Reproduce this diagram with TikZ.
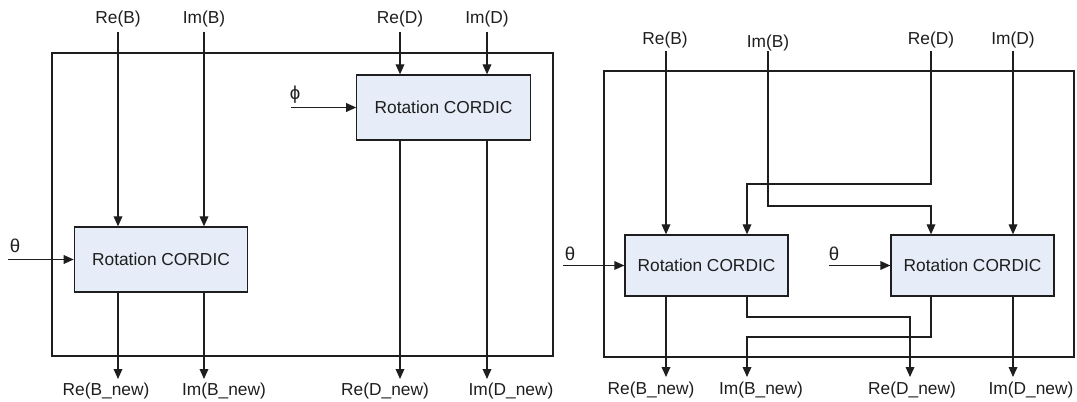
\documentclass[tikz,border=0pt]{standalone}
\usepackage{fontspec}
\setmainfont{Liberation Sans}
\usetikzlibrary{arrows.meta}
\definecolor{boxfill}{RGB}{230,236,248}
\definecolor{ink}{RGB}{30,30,30}
\begin{document}
\begin{tikzpicture}[x=0.75pt,y=-0.75pt,
  wire/.style={line width=0.95pt, draw=ink},
  arr/.style={wire,-{Triangle[length=7.5pt,width=6.5pt]}},
  lbl/.style={inner sep=0pt, font=\fontsize{13}{15}\selectfont, text=ink},
  cordicA/.style={draw=ink, line width=0.95pt, fill=boxfill, minimum width=130pt, minimum height=48.75pt, inner sep=0pt, font=\fontsize{13}{15}\selectfont, text=ink},
  cordicB/.style={cordicA, minimum width=122.25pt, minimum height=45.75pt},
  frame/.style={draw=ink, line width=0.95pt}]
\useasboundingbox (0,0) rectangle (1077,402);

% ===== Left diagram =====
\draw[frame] (52,53) rectangle (553,356);
\node[cordicA] (L1) at (161,259.5) {Rotation CORDIC};
\node[cordicA] (R1) at (443.5,107.5) {Rotation CORDIC};

\node[lbl] (aReB) at (118,19) {Re(B)};
\node[lbl] (aImB) at (204,19) {Im(B)};
\node[lbl] (aReD) at (400,19) {Re(D)};
\node[lbl] (aImD) at (487,19) {Im(D)};
\coordinate (a1) at (118,32);
\coordinate (a2) at (204,32);
\coordinate (a3) at (400,32);
\coordinate (a4) at (487,32);
\draw[arr] (a1) -- (a1 |- L1.north);
\draw[arr] (a2) -- (a2 |- L1.north);
\draw[arr] (a3) -- (a3 |- R1.north);
\draw[arr] (a4) -- (a4 |- R1.north);

\node[lbl, font=\fontsize{14}{16}\selectfont] (ath) at (15,246) {θ};
\coordinate (athS) at (8,259.5);
\draw[arr] (athS) -- (L1.west);
\node[lbl, font=\fontsize{14}{16}\selectfont] (aphi) at (295,95) {ϕ};
\coordinate (aphiS) at (291,107.5);
\draw[arr] (aphiS) -- (R1.west);

\coordinate (ao1) at (118,379);
\coordinate (ao2) at (204,379);
\coordinate (ao3) at (400,379);
\coordinate (ao4) at (487,379);
\draw[arr] (ao1 |- L1.south) -- (ao1);
\draw[arr] (ao2 |- L1.south) -- (ao2);
\draw[arr] (ao3 |- R1.south) -- (ao3);
\draw[arr] (ao4 |- R1.south) -- (ao4);
\node[lbl] (aReBn) at (106,391) {Re(B\_new)};
\node[lbl] (aImBn) at (224,391) {Im(B\_new)};
\node[lbl] (aReDn) at (385,391) {Re(D\_new)};
\node[lbl] (aImDn) at (511,391) {Im(D\_new)};

% ===== Right diagram =====
\draw[frame] (604,71) rectangle (1074,357);
\node[cordicB] (L2) at (706.5,265.5) {Rotation CORDIC};
\node[cordicB] (R2) at (972.5,265.5) {Rotation CORDIC};

\node[lbl] (bReB) at (665,40) {Re(B)};
\node[lbl] (bImB) at (768,43) {Im(B)};
\node[lbl] (bReD) at (931,40) {Re(D)};
\node[lbl] (bImD) at (1013,40) {Im(D)};
\coordinate (b1) at (666,51);
\coordinate (b2) at (768,51);
\coordinate (b3) at (931,51);
\coordinate (b4) at (1013,51);
\coordinate (bj1) at (931,184);
\coordinate (bj2) at (747,184);
\coordinate (bj3) at (768,206);
\coordinate (bj4) at (931,206);
\draw[arr] (b1) -- (b1 |- L2.north);
\draw[arr] (b3) -- (bj1) -- (bj2) -- (bj2 |- L2.north);
\draw[arr] (b2) -- (bj3) -- (bj4) -- (bj4 |- R2.north);
\draw[arr] (b4) -- (b4 |- R2.north);

\node[lbl, font=\fontsize{14}{16}\selectfont] (bth1) at (570,254) {θ};
\coordinate (bth1S) at (563,265.5);
\draw[arr] (bth1S) -- (L2.west);
\node[lbl, font=\fontsize{14}{16}\selectfont] (bth2) at (834,254) {θ};
\coordinate (bth2S) at (829,265.5);
\draw[arr] (bth2S) -- (R2.west);

\coordinate (bo1) at (666,377);
\coordinate (bo2) at (747,377);
\coordinate (bo3) at (910,377);
\coordinate (bo4) at (1013,377);
\coordinate (bk1) at (747,317);
\coordinate (bk2) at (910,317);
\coordinate (bk3) at (931,337);
\coordinate (bk4) at (747,337);
\draw[arr] (bo1 |- L2.south) -- (bo1);
\draw[arr] (bk1 |- L2.south) -- (bk1) -- (bk2) -- (bo3);
\draw[arr] (bk3 |- R2.south) -- (bk3) -- (bk4) -- (bo2);
\draw[arr] (bo4 |- R2.south) -- (bo4);
\node[lbl] (bReBn) at (651,390) {Re(B\_new)};
\node[lbl] (bImBn) at (761,390) {Im(B\_new)};
\node[lbl] (bReDn) at (912,390) {Re(D\_new)};
\node[lbl] (bImDn) at (1031,390) {Im(D\_new)};
\end{tikzpicture}
\end{document}
